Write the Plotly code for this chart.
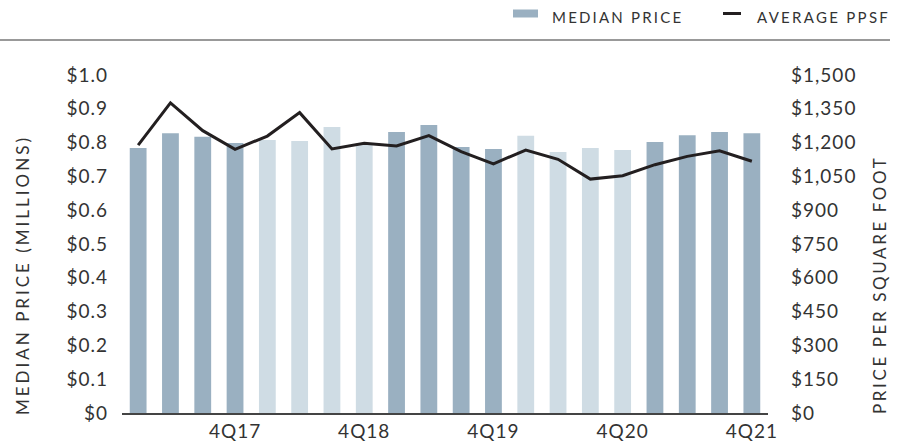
import plotly.graph_objects as go

quarters = [f"{q}Q{y}" for y in ["17", "18", "19", "20", "21"] for q in [1, 2, 3, 4]]
median_price = [0.784, 0.828, 0.817, 0.799, 0.808, 0.805, 0.846, 0.798, 0.831, 0.852,
                0.787, 0.781, 0.820, 0.772, 0.784, 0.778, 0.802, 0.822, 0.831, 0.828]
average_ppsf = [1189, 1376, 1253, 1170, 1229, 1333, 1172, 1197, 1185, 1231,
                1160, 1106, 1167, 1126, 1038, 1053, 1102, 1139, 1164, 1117]
x_tick_labels = ["4Q17", "4Q18", "4Q19", "4Q20", "4Q21"]
left_ticks = [0, 0.1, 0.2, 0.3, 0.4, 0.5, 0.6, 0.7, 0.8, 0.9, 1.0]
left_tick_text = ["$0", "$0.1", "$0.2", "$0.3", "$0.4", "$0.5", "$0.6", "$0.7", "$0.8", "$0.9", "$1.0"]
right_ticks = [0, 150, 300, 450, 600, 750, 900, 1050, 1200, 1350, 1500]
right_tick_text = ["$0", "$150", "$300", "$450", "$600", "$750", "$900", "$1,050", "$1,200", "$1,350", "$1,500"]

DARK = "#9AB0C1"
LIGHT = "#CFDCE4"
bar_colors = [DARK if (i // 4) % 2 == 0 else LIGHT for i in range(len(quarters))]

FONT = "Lato"
TXT = "#333333"


def spaced(text, sp):
    return f'<span style="letter-spacing:{sp}px">{text}</span>'


fig = go.Figure()
fig.add_trace(go.Bar(x=quarters, y=median_price, marker=dict(color=bar_colors, line=dict(width=0)),
                     name="MEDIAN PRICE", width=0.52, showlegend=False))
fig.add_trace(go.Scatter(x=quarters, y=average_ppsf, yaxis="y2", mode="lines",
                         line=dict(color="#231F20", width=3), name="AVERAGE PPSF", showlegend=False))

W, H = 907, 445
L, R, T, B = 122, 139, 75, 32
pw, ph = W - L - R, H - T - B


def px(x):
    return (x - L) / pw


def py(y):
    return (H - B - y) / ph


fig.update_layout(
    template="none",
    width=W, height=H,
    margin=dict(l=L, r=R, t=T, b=B, pad=0, autoexpand=False),
    paper_bgcolor="white", plot_bgcolor="white",
    font=dict(family=FONT, color=TXT, size=18),
    showlegend=False,
    xaxis=dict(type="category", tickvals=x_tick_labels, ticktext=[spaced(t, 1) for t in x_tick_labels],
               automargin=False, showgrid=False, showline=True, linecolor="#444444", linewidth=1.5,
               zeroline=False, ticks="", tickfont=dict(size=19, color=TXT), range=[-0.5, 19.5]),
    yaxis=dict(range=[0, 1.0], tickvals=left_ticks, ticktext=[spaced(t, 1) for t in left_tick_text],
               showgrid=False, zeroline=False, showline=False, ticks="", ticklabelstandoff=13,
               automargin=False, tickfont=dict(size=19, color=TXT)),
    yaxis2=dict(range=[0, 1500], tickvals=right_ticks, ticktext=[spaced(t, 1) for t in right_tick_text],
                overlaying="y", side="right", showgrid=False, zeroline=False, showline=False, ticks="",
                ticklabelstandoff=22, automargin=False, tickfont=dict(size=19, color=TXT)),
)

# Axis titles
fig.add_annotation(text=spaced("MEDIAN PRICE (MILLIONS)", 3), xref="paper", yref="paper",
                   x=px(22), y=py(275), textangle=-90, showarrow=False,
                   font=dict(size=17, color=TXT, family=FONT), xanchor="center", yanchor="middle")
fig.add_annotation(text=spaced("PRICE PER SQUARE FOOT", 2.6), xref="paper", yref="paper",
                   x=px(879), y=py(285), textangle=-90, showarrow=False,
                   font=dict(size=17, color=TXT, family=FONT), xanchor="center", yanchor="middle")

# Legend (custom)
fig.add_shape(type="rect", xref="paper", yref="paper", x0=px(513), x1=px(538), y0=py(17.5), y1=py(9.5),
              fillcolor=DARK, line=dict(width=0))
fig.add_annotation(text=spaced("MEDIAN PRICE", 2.2), xref="paper", yref="paper", x=px(550), y=py(17),
                   xanchor="left", yanchor="middle", showarrow=False,
                   font=dict(size=15, color=TXT, family=FONT))
fig.add_shape(type="line", xref="paper", yref="paper", x0=px(723), x1=px(741), y0=py(13.5), y1=py(13.5),
              line=dict(color="#231F20", width=3))
fig.add_annotation(text=spaced("AVERAGE PPSF", 2.3), xref="paper", yref="paper", x=px(755), y=py(17),
                   xanchor="left", yanchor="middle", showarrow=False,
                   font=dict(size=15, color=TXT, family=FONT))
# Separator line under legend
fig.add_shape(type="line", xref="paper", yref="paper", x0=px(0), x1=px(890), y0=py(40), y1=py(40),
              line=dict(color="#777777", width=1.5))

fig.write_html("out.html", post_script="document.body.style.margin='0';",
               config={"displayModeBar": False})
